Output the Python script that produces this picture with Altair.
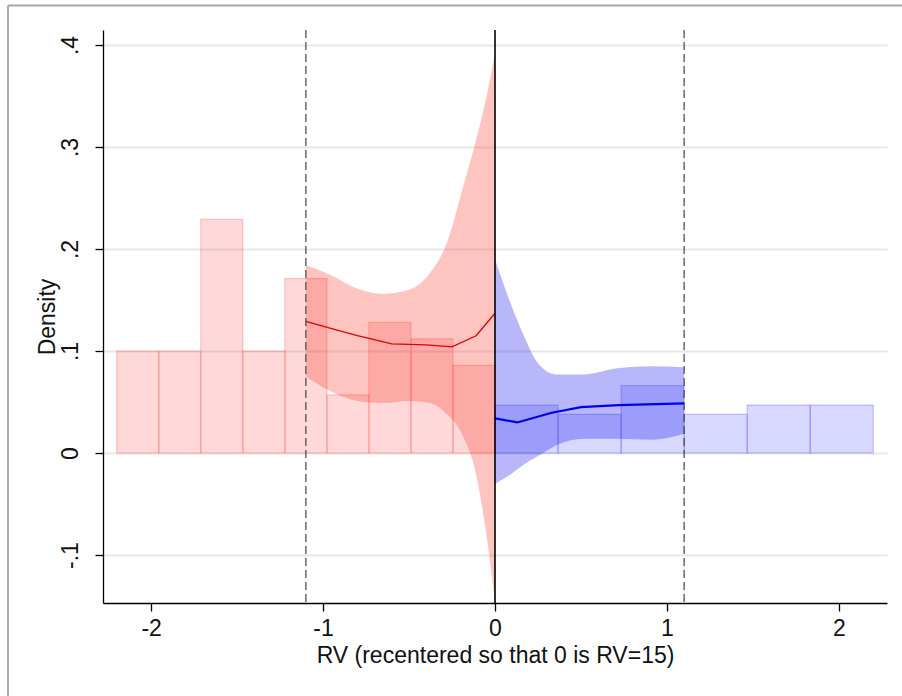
import altair as alt
import pandas as pd

# ---- data ----
left_bin_edges = [-2.2, -1.9556, -1.7111, -1.4667, -1.2222, -0.9778, -0.7333, -0.4889, -0.2444, 0.0]
left_density = [0.100, 0.100, 0.229, 0.100, 0.171, 0.057, 0.128, 0.112, 0.086]

right_bin_edges = [0.0, 0.3667, 0.7333, 1.1, 1.4667, 1.8333, 2.2]
right_density = [0.047, 0.038, 0.066, 0.038, 0.047, 0.047]

left_fit_x = [-1.1, -0.95, -0.8, -0.6, -0.4, -0.25, -0.11, 0.0]
left_fit_y = [0.129, 0.122, 0.115, 0.107, 0.106, 0.104, 0.115, 0.137]

left_ci_x = [-1.1, -0.95, -0.8, -0.65, -0.5, -0.38, -0.28, -0.19, -0.11, -0.05, 0.0]
left_ci_hi = [0.184, 0.174, 0.161, 0.156, 0.160, 0.176, 0.206, 0.258, 0.307, 0.349, 0.392]
left_ci_lo = [0.075, 0.060, 0.051, 0.049, 0.051, 0.049, 0.038, 0.018, -0.021, -0.080, -0.145]

right_fit_x = [0.0, 0.13, 0.33, 0.5, 0.72, 1.1]
right_fit_y = [0.034, 0.030, 0.0395, 0.045, 0.047, 0.0487]

right_ci_x = [0.0, 0.09, 0.17, 0.25, 0.36, 0.52, 0.71, 0.91, 1.1]
right_ci_hi = [0.190, 0.147, 0.114, 0.088, 0.077, 0.077, 0.083, 0.085, 0.084]
right_ci_lo = [-0.030, -0.021, -0.011, -0.003, 0.008, 0.014, 0.014, 0.013, 0.019]

bandwidth_lines = [-1.1, 1.1]
cutoff_line = [0.0]

x_ticks = [-2, -1, 0, 1, 2]
y_ticks = [-0.1, 0, 0.1, 0.2, 0.3, 0.4]
x_title = "RV (recentered so that 0 is RV=15)"
y_title = "Density"

# ---- tables ----
left_bars = pd.DataFrame({"x0": left_bin_edges[:-1], "x1": left_bin_edges[1:], "d": left_density})
right_bars = pd.DataFrame({"x0": right_bin_edges[:-1], "x1": right_bin_edges[1:], "d": right_density})
left_fit = pd.DataFrame({"x": left_fit_x, "y": left_fit_y})
right_fit = pd.DataFrame({"x": right_fit_x, "y": right_fit_y})
left_ci = pd.DataFrame({"x": left_ci_x, "hi": left_ci_hi, "lo": left_ci_lo})
right_ci = pd.DataFrame({"x": right_ci_x, "hi": right_ci_hi, "lo": right_ci_lo})
dash_df = pd.DataFrame({"x": bandwidth_lines})
cut_df = pd.DataFrame({"x": cutoff_line})

FONT = "Liberation Sans"
FS = 23

xscale = alt.Scale(domain=[-2.28, 2.28], nice=False, zero=False)
yscale = alt.Scale(domain=[-0.147, 0.4147], nice=False, zero=False)

xaxis = alt.Axis(
    values=x_ticks, title=x_title, grid=False,
    labelExpr="datum.value < 0 ? '-' + abs(datum.value) : '' + datum.value",
    domainColor="black", tickColor="black", tickSize=8, labelPadding=6,
    labelFontSize=FS, titleFontSize=FS, labelFont=FONT, titleFont=FONT,
    labelColor="#111111", titleColor="#111111", titleFontWeight="normal", titlePadding=4,
)
yaxis = alt.Axis(
    values=y_ticks, title=y_title, grid=True, gridColor="#E8E8E8", gridWidth=2,
    labelExpr="datum.value == 0 ? '0' : (datum.value < 0 ? '-' : '') + replace(format(abs(datum.value), '.1f'), '0.', '.')",
    labelAngle=270, labelAlign="center", labelBaseline="bottom",
    domainColor="black", tickColor="black", tickSize=8, labelPadding=13,
    labelFontSize=FS, titleFontSize=FS, labelFont=FONT, titleFont=FONT,
    labelColor="#111111", titleColor="#111111", titleFontWeight="normal", titlePadding=0,
)

def X(field):
    return alt.X(field, type="quantitative", scale=xscale, axis=xaxis)

def Y(field):
    return alt.Y(field, type="quantitative", scale=yscale, axis=yaxis)

lb = alt.Chart(left_bars).mark_rect(fill="#FF0000", fillOpacity=0.15, stroke="#FF6060",
                                     strokeOpacity=0.35, strokeWidth=1.2).encode(
    x=X("x0"), x2="x1", y=Y("d"), y2=alt.datum(0))
rb = alt.Chart(right_bars).mark_rect(fill="#0000FF", fillOpacity=0.15, stroke="#6060FF",
                                      strokeOpacity=0.35, strokeWidth=1.2).encode(
    x=X("x0"), x2="x1", y=Y("d"), y2=alt.datum(0))

lci = alt.Chart(left_ci).mark_area(color="#F83A30", opacity=0.3, interpolate="monotone").encode(
    x=X("x"), y=Y("hi"), y2="lo")
rci = alt.Chart(right_ci).mark_area(color="#1010F0", opacity=0.3, interpolate="monotone").encode(
    x=X("x"), y=Y("hi"), y2="lo")

lfit = alt.Chart(left_fit).mark_line(color="#E00000", strokeWidth=1.3).encode(x=X("x"), y=Y("y"))
rfit = alt.Chart(right_fit).mark_line(color="#0000F0", strokeWidth=2.2).encode(x=X("x"), y=Y("y"))

dashes = alt.Chart(dash_df).mark_rule(color="#444444", strokeDash=[8, 4], strokeWidth=1.2).encode(x=X("x"))
cut = alt.Chart(cut_df).mark_rule(color="black", strokeWidth=1.6).encode(x=X("x"))

frame_left = alt.Chart(cut_df).mark_rule(color="#AAAAAA", strokeWidth=2).encode(
    x=alt.value(-95), y=alt.value(-24.5), y2=alt.value(666))
frame_top = alt.Chart(cut_df).mark_rule(color="#AAAAAA", strokeWidth=2).encode(
    x=alt.value(-95), x2=alt.value(799), y=alt.value(-24.5))

chart = alt.layer(lb, rb, lci, rci, lfit, rfit, dashes, cut, frame_left, frame_top).properties(
    width=784, height=573,
    autosize=alt.AutoSizeParams(type="none"),
    padding={"left": 103, "top": 30, "right": 15, "bottom": 93},
    background="white",
).configure_view(stroke=None).configure_axis(domainWidth=1.3, tickWidth=1.3)

chart.save("out.html", embed_options={"renderer": "svg", "actions": False})
